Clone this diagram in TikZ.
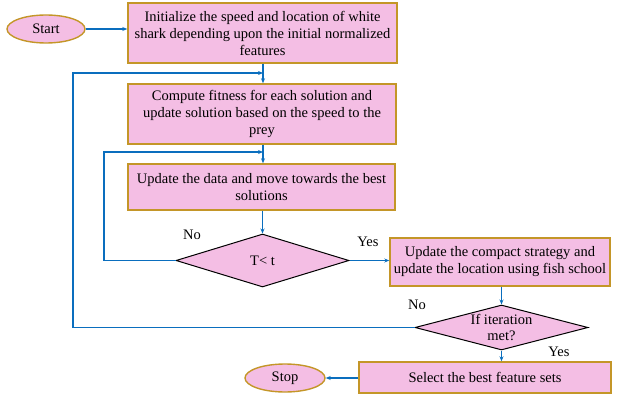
\documentclass[tikz,border=0pt]{standalone}
\usepackage{fontspec}
\setmainfont{Liberation Serif}
\usetikzlibrary{shapes.geometric,arrows.meta}
\definecolor{pinkf}{RGB}{244,190,228}
\definecolor{goldb}{RGB}{196,150,40}
\definecolor{bluel}{RGB}{10,110,190}
\tikzset{
  procbox/.style={draw=goldb,line width=1.4pt,fill=pinkf,align=center,inner sep=0pt,font=\fontsize{14.5}{17}\selectfont},
  term/.style={ellipse,draw=goldb,line width=1.4pt,fill=pinkf,inner sep=0pt,font=\fontsize{14.5}{17}\selectfont},
  decis/.style={diamond,draw=black,line width=1pt,fill=pinkf,inner sep=0pt,align=center,font=\fontsize{14.5}{16}\selectfont},
  conn/.style={draw=bluel,line width=1.3pt,-{Stealth[length=5pt,width=4pt]}},
  lbl/.style={font=\fontsize{14.5}{17}\selectfont}
}
\begin{document}
\begin{tikzpicture}[x=1pt,y=-1pt]
\useasboundingbox (0,0) rectangle (622,396);
\node[term,minimum width=78pt,minimum height=28pt] (start) at (46,29) {Start};
\node[procbox,minimum width=269pt,minimum height=60pt] (b1) at (262.5,33) {Initialize the speed and location of white\\shark depending upon the initial normalized\\features};
\node[procbox,minimum width=268pt,minimum height=60pt] (b2) at (262,114) {Compute fitness for each solution and\\update solution based on the speed to the\\prey};
\node[procbox,minimum width=267pt,minimum height=46pt] (b3) at (261.5,187) {Update the data and move towards the best\\solutions};
\node[decis,minimum width=173pt,minimum height=53pt,aspect=3.2] (d1) at (262.5,260.5) {T< t};
\node[procbox,minimum width=220pt,minimum height=48pt] (b4) at (500,262) {Update the compact strategy and\\update the location using fish school};
\node[decis,minimum width=173pt,minimum height=45pt,aspect=3.8] (d2) at (501.5,327.5) {If iteration\\met?};
\node[procbox,minimum width=252pt,minimum height=31pt] (b5) at (485,377.5) {Select the best feature sets};
\node[term,minimum width=80pt,minimum height=28pt] (stop) at (285,378) {Stop};
\coordinate (j1) at (263,73);
\coordinate (j2) at (263,152);
\draw[conn] (start) -- (b1.west|-start);
\draw[conn] (b1.south-|j1) -- (b2.north-|j1);
\draw[conn] (d2.west) -- (73,327.5) -- (73,73) -- (j1);
\draw[conn] (b2.south-|j2) -- (b3.north-|j2);
\draw[conn] (d1.west) -- (104,260.5) -- (104,152) -- (j2);
\draw[conn] (b3.south-|d1) -- (d1.north);
\draw[conn] (d1.east) -- (b4.west|-d1);
\draw[conn] (b4.south-|d2) -- (d2.north);
\draw[conn] (d2.south) -- (b5.north-|d2);
\draw[conn] (b5.west|-stop) -- (stop.east);
\node[lbl] (no1) at (192,235) {No};
\node[lbl] (yes1) at (368,242) {Yes};
\node[lbl] (no2) at (417,305) {No};
\node[lbl] (yes2) at (559,352) {Yes};
\end{tikzpicture}
\end{document}
